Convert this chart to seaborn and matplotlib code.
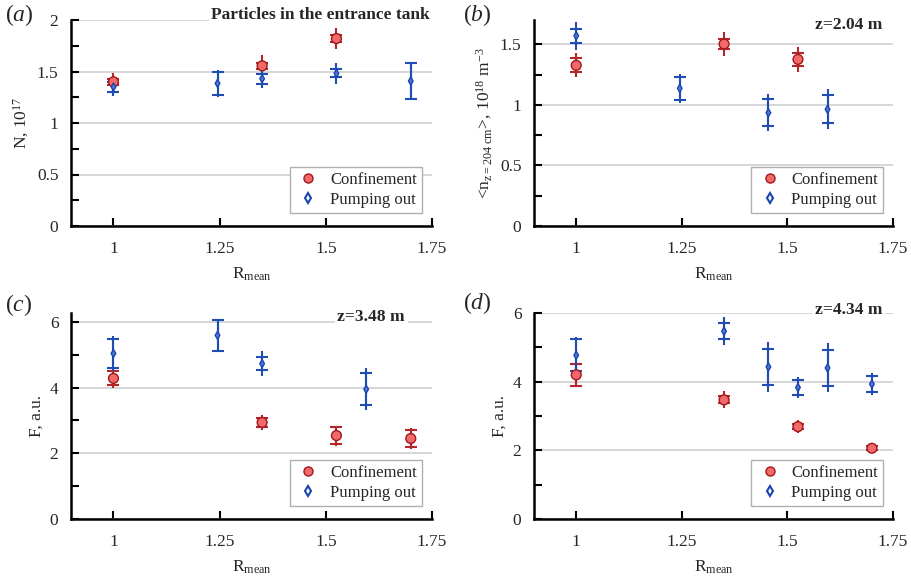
import numpy as np
import pandas as pd
import matplotlib
matplotlib.use("Agg")
import matplotlib.pyplot as plt
from matplotlib.ticker import MultipleLocator
import seaborn as sns

# ---------------- data ----------------
# panel (a): particles in the entrance tank, N [1e17]
a_conf_x = [1.0, 1.35, 1.525]
a_conf_y = [1.40, 1.555, 1.82]
a_conf_cap = [0.03, 0.03, 0.03]
a_conf_bar = [0.09, 0.11, 0.10]
a_pump_x = [1.0, 1.245, 1.35, 1.525, 1.7]
a_pump_y = [1.35, 1.385, 1.43, 1.482, 1.408]
a_pump_cap = [0.05, 0.113, 0.05, 0.04, 0.176]
a_pump_bar = [0.09, 0.13, 0.095, 0.10, 0.18]

# panel (b): <n> at z=2.04 m [1e18 m^-3]
b_conf_x = [1.0, 1.35, 1.525]
b_conf_y = [1.326, 1.502, 1.375]
b_conf_cap = [0.058, 0.04, 0.053]
b_conf_bar = [0.10, 0.10, 0.104]
b_pump_x = [1.0, 1.245, 1.455, 1.595]
b_pump_y = [1.57, 1.136, 0.935, 0.963]
b_pump_cap = [0.057, 0.094, 0.112, 0.117]
b_pump_bar = [0.114, 0.121, 0.152, 0.164]

# panel (c): F at z=3.48 m [a.u.]
c_conf_x = [1.0, 1.35, 1.525, 1.7]
c_conf_y = [4.28, 2.94, 2.54, 2.45]
c_conf_cap = [0.21, 0.135, 0.255, 0.255]
c_conf_bar = [0.30, 0.225, 0.305, 0.305]
c_pump_x = [1.0, 1.245, 1.35, 1.595]
c_pump_y = [5.04, 5.59, 4.73, 3.95]
c_pump_cap = [0.44, 0.465, 0.195, 0.49]
c_pump_bar = [0.54, 0.465, 0.37, 0.645]

# panel (d): F at z=4.34 m [a.u.]
d_conf_x = [1.0, 1.35, 1.525, 1.7]
d_conf_y = [4.20, 3.47, 2.69, 2.06]
d_conf_cap = [0.32, 0.10, 0.08, 0.06]
d_conf_bar = [0.33, 0.245, 0.185, 0.115]
d_pump_x = [1.0, 1.35, 1.455, 1.525, 1.595, 1.7]
d_pump_y = [4.77, 5.47, 4.43, 3.83, 4.40, 3.93]
d_pump_cap = [0.46, 0.23, 0.525, 0.205, 0.535, 0.24]
d_pump_bar = [0.535, 0.405, 0.72, 0.315, 0.715, 0.33]

x_ticks = [1.0, 1.25, 1.5, 1.75]
x_tick_labels = ["1", "1.25", "1.5", "1.75"]
series_names = ["Confinement", "Pumping out"]
panel_letters = ["a", "b", "c", "d"]
panel_titles = ["Particles in the entrance tank", "z=2.04 m", "z=3.48 m", "z=4.34 m"]
y_labels = [r"N, 10$^{17}$",
            r"<n$_{z=204\ \mathrm{cm}}$>, 10$^{18}$ m$^{-3}$",
            r"F, a.u.",
            r"F, a.u."]
x_label = r"R$_{\mathrm{mean}}$"

# ---------------- style ----------------
sns.set_theme(style="white")
plt.rcParams["font.family"] = ["Liberation Serif", "DejaVu Serif"]
plt.rcParams["mathtext.fontset"] = "custom"
plt.rcParams["mathtext.rm"] = "Liberation Serif"
plt.rcParams["mathtext.it"] = "Liberation Serif:italic"
plt.rcParams["mathtext.bf"] = "Liberation Serif:bold"
plt.rcParams["mathtext.default"] = "rm"

RED_FACE = "#f06a6a"
RED_EDGE = "#a3161a"
RED_BAR = "#b3262a"
BLUE_FACE = "#4f7bd6"
BLUE_EDGE = "#1a45b0"
BLUE_BAR = "#1f4db5"

fig = plt.figure(figsize=(9.12, 5.76), dpi=100)
W, H = 912.0, 576.0

def px_axes(left, right, top, bottom):
    return fig.add_axes([left / W, 1 - bottom / H, (right - left) / W, (bottom - top) / H])

axes = [
    px_axes(71, 432, 20, 226),
    px_axes(534, 893, 20, 226),
    px_axes(71, 432, 313, 519),
    px_axes(534, 893, 313, 519),
]

panels = [
    (a_conf_x, a_conf_y, a_conf_cap, a_conf_bar, a_pump_x, a_pump_y, a_pump_cap, a_pump_bar),
    (b_conf_x, b_conf_y, b_conf_cap, b_conf_bar, b_pump_x, b_pump_y, b_pump_cap, b_pump_bar),
    (c_conf_x, c_conf_y, c_conf_cap, c_conf_bar, c_pump_x, c_pump_y, c_pump_cap, c_pump_bar),
    (d_conf_x, d_conf_y, d_conf_cap, d_conf_bar, d_pump_x, d_pump_y, d_pump_cap, d_pump_bar),
]
ylims = [(0, 2.0), (0, 1.7), (0, 6.27), (0, 6.0)]
y_major = [0.5, 0.5, 2, 2]
y_minor = [0.25, 0.25, 1, 1]

title_pos = [(0.995, 1.024), (0.971, 0.976), (0.925, 0.98), (0.971, 1.013)]
letter_pos = [(5, 15), (463, 15), (5, 305), (463, 303)]

for i, ax in enumerate(axes):
    cx, cy, ccap, cbar, px_, py_, pcap, pbar = panels[i]
    df = pd.concat([
        pd.DataFrame({"R": cx, "v": cy, "cap": ccap, "bar": cbar, "series": series_names[0]}),
        pd.DataFrame({"R": px_, "v": py_, "cap": pcap, "bar": pbar, "series": series_names[1]}),
    ], ignore_index=True)

    ax.set_xlim(0.9, 1.75)
    ax.set_ylim(*ylims[i])
    ax.yaxis.set_major_locator(MultipleLocator(y_major[i]))
    ax.yaxis.set_minor_locator(MultipleLocator(y_minor[i]))
    ax.yaxis.set_major_formatter(plt.FuncFormatter(lambda v, p: f"{v:g}"))
    ax.set_xticks(x_ticks)
    ax.set_xticklabels(x_tick_labels)
    ax.grid(axis="y", which="major", color="#cfcfcf", linewidth=1.2, zorder=0)
    ax.set_axisbelow(True)

    for name, bar_col, z in [(series_names[0], RED_BAR, 3), (series_names[1], BLUE_BAR, 4)]:
        sub = df[df["series"] == name]
        ax.errorbar(sub["R"], sub["v"], yerr=sub["bar"], fmt="none", ecolor=bar_col,
                    elinewidth=1.5, capsize=0, zorder=z)
        ax.errorbar(sub["R"], sub["v"], yerr=sub["cap"], fmt="none", ecolor=bar_col,
                    elinewidth=1.5, capsize=4, capthick=1.5, zorder=z)

    sns.scatterplot(data=df, x="R", y="v", hue="series", style="series",
                    hue_order=series_names, style_order=series_names,
                    markers={series_names[0]: "o", series_names[1]: "d"},
                    palette={series_names[0]: RED_FACE, series_names[1]: BLUE_FACE},
                    s=50, linewidth=1.0, ax=ax, legend=False, zorder=5)
    coll = ax.collections[-1]
    edges = [RED_EDGE if s == series_names[0] else BLUE_EDGE for s in df["series"]]
    coll.set_edgecolors(edges)
    sizes = [50 if s == series_names[0] else 16 for s in df["series"]]
    coll.set_sizes(sizes)

    # legend
    h1 = plt.Line2D([], [], linestyle="none", marker="o", markersize=6.5,
                    markerfacecolor=RED_FACE, markeredgecolor=RED_EDGE, markeredgewidth=1)
    h2 = plt.Line2D([], [], linestyle="none", marker="d", markersize=5,
                    markerfacecolor="white", markeredgecolor=BLUE_EDGE, markeredgewidth=1.5)
    leg = ax.legend([h1, h2], series_names, loc="lower right", bbox_to_anchor=(0.972, 0.063),
                    borderaxespad=0.0,
                    fontsize=12, frameon=True, fancybox=False, framealpha=1,
                    edgecolor="#b0b0b0", borderpad=0.3, handletextpad=0.5,
                    labelspacing=0.25, handlelength=1.6)
    leg.get_frame().set_linewidth(1.0)

    ax.set_xlabel(x_label, fontsize=12.5, labelpad=6)
    ax.set_ylabel(y_labels[i], fontsize=12.5, labelpad=4)

    for side in ["top", "right"]:
        ax.spines[side].set_visible(False)
    for side in ["left", "bottom"]:
        ax.spines[side].set_visible(True)
        ax.spines[side].set_color("black")
        ax.spines[side].set_linewidth(1.8)
    ax.tick_params(axis="both", which="major", direction="in", length=6, width=1.5,
                   labelsize=12.5, color="black", pad=9)
    ax.tick_params(axis="y", which="minor", direction="in", length=6, width=1.5, color="black", left=True)
    ax.tick_params(axis="x", which="major", bottom=True, pad=11)
    ax.tick_params(axis="y", which="major", left=True)

    tx, ty = title_pos[i]
    ax.text(tx, ty, panel_titles[i], transform=ax.transAxes, ha="right", va="center",
            fontsize=12.5, fontweight="bold", zorder=10, clip_on=False,
            bbox=dict(facecolor="white", edgecolor="none", pad=2))

    lx, ly = letter_pos[i]
    fig.text(lx / W, 1 - ly / H, r"($\mathit{" + panel_letters[i] + r"}$)", fontsize=17,
             ha="left", va="center")

fig.savefig("out.png", dpi=100)
